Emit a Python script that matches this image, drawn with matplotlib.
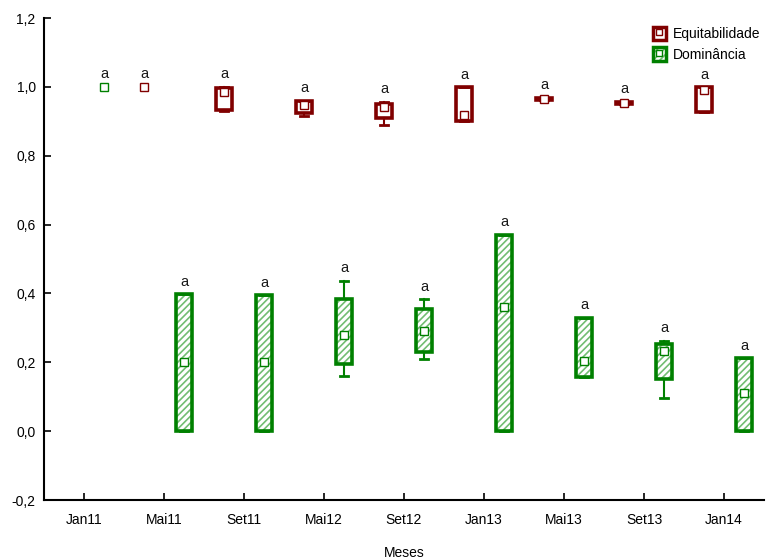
import numpy as np
import matplotlib
matplotlib.use("Agg")
import matplotlib.pyplot as plt
from matplotlib.lines import Line2D
from matplotlib.patches import Patch
from matplotlib.legend_handler import HandlerTuple
from matplotlib.ticker import FuncFormatter

plt.rcParams['font.family'] = ['Liberation Sans', 'DejaVu Sans']
plt.rcParams['hatch.linewidth'] = 1.2

nan = np.nan

# === dados ===
meses = ["Jan11", "Mai11", "Set11", "Mai12", "Set12", "Jan13", "Mai13", "Set13", "Jan14"]

# Equitabilidade (NaN = sem caixa)
eq_med = [nan, 1.000, 0.984, 0.948, 0.941, 0.919, 0.965, 0.953, 0.990]
eq_q1 = [nan, nan, 0.933, 0.924, 0.909, 0.900, 0.962, 0.950, 0.926]
eq_q3 = [nan, nan, 0.998, 0.960, 0.951, 0.999, 0.968, 0.956, 0.999]
eq_min = [nan, nan, 0.930, 0.916, 0.890, 0.900, 0.962, 0.950, 0.926]
eq_max = [nan, nan, 1.000, 0.960, 0.956, 0.999, 0.968, 0.956, 0.999]

# Dominância
dom_med = [1.000, 0.202, 0.202, 0.278, 0.291, 0.360, 0.204, 0.233, 0.110]
dom_q1 = [nan, 0.000, 0.000, 0.194, 0.230, 0.000, 0.156, 0.151, 0.000]
dom_q3 = [nan, 0.397, 0.394, 0.383, 0.354, 0.571, 0.330, 0.252, 0.211]
dom_min = [nan, 0.000, 0.000, 0.159, 0.209, 0.000, 0.156, 0.095, 0.000]
dom_max = [nan, 0.397, 0.394, 0.436, 0.383, 0.571, 0.330, 0.262, 0.211]

letras = "a"

RED = '#800000'
GREEN = '#008000'
LGREEN = '#72bd72'


def desenha(ax, offset, med, q1, q3, lo, hi, cor, hatch=None, cor_hatch=None):
    x = np.arange(len(meses)) + offset
    stats, pos = [], []
    for i in range(len(meses)):
        if not np.isnan(q1[i]):
            stats.append(dict(med=med[i], q1=q1[i], q3=q3[i], whislo=lo[i], whishi=hi[i], fliers=[]))
            pos.append(x[i])
    if hatch:
        ax.bxp(stats, positions=pos, widths=0.2, patch_artist=True, showcaps=False, showfliers=False,
               boxprops=dict(facecolor='white', edgecolor=cor_hatch, hatch=hatch, linewidth=0),
               whiskerprops=dict(linestyle='none'), medianprops=dict(linestyle='none'),
               manage_ticks=False, zorder=2)
    ax.bxp(stats, positions=pos, widths=0.2, patch_artist=True, showfliers=False,
           boxprops=dict(facecolor='none' if hatch else 'white', edgecolor=cor, linewidth=2.6),
           whiskerprops=dict(color=cor, linewidth=1.5), capprops=dict(color=cor, linewidth=2),
           medianprops=dict(linestyle='none'), manage_ticks=False, zorder=3)
    ax.plot(x, med, 's', ms=5.5, mfc='white', mec=cor, mew=1, ls='none', zorder=4)

    # letras acima de cada caixa
    for i in range(len(meses)):
        if np.isnan(med[i]):
            continue
        topo = hi[i] if not np.isnan(hi[i]) else med[i]
        ax.annotate(letras, (x[i], topo), xytext=(0, 4), textcoords='offset points',
                    ha='center', va='bottom', fontsize=10.5, color='#1a1a1a')


fig = plt.figure(figsize=(7.67, 5.6), dpi=100)
ax = fig.add_axes([44 / 767, 60 / 560, 720 / 767, 482 / 560])

desenha(ax, -0.25, eq_med, eq_q1, eq_q3, eq_min, eq_max, RED)
desenha(ax, 0.25, dom_med, dom_q1, dom_q3, dom_min, dom_max, GREEN, hatch='/////', cor_hatch=LGREEN)

ax.set_xlim(-0.5, len(meses) - 0.5)
ax.set_ylim(-0.2, 1.2)
ax.set_xticks(np.arange(len(meses)))
ax.set_xticklabels(meses)
ax.set_yticks(np.arange(-0.2, 1.21, 0.2))
ax.yaxis.set_major_formatter(FuncFormatter(lambda v, p: f"{round(v, 1):.1f}".replace('.', ',').replace('-0,0', '0,0')))
ax.tick_params(direction='in', length=5, width=1.2, labelsize=10, pad=6)
ax.tick_params(axis='x', pad=9)
ax.spines['top'].set_visible(False)
ax.spines['right'].set_visible(False)
ax.spines['left'].set_linewidth(1.5)
ax.spines['bottom'].set_linewidth(1.5)
ax.set_xlabel("Meses", fontsize=10, labelpad=14)

h_eq = (Patch(facecolor='white', edgecolor=RED, lw=2.5),
        Line2D([], [], marker='s', ms=5, mfc='white', mec=RED, ls='none'))
h_dom = (Patch(facecolor='white', edgecolor=LGREEN, hatch='/////', lw=0),
         Patch(facecolor='none', edgecolor=GREEN, lw=2.5),
         Line2D([], [], marker='s', ms=5, mfc='white', mec=GREEN, ls='none'))
ax.legend([h_eq, h_dom], ['Equitabilidade', 'Dominância'],
          handler_map={tuple: HandlerTuple(ndivide=1)},
          loc='upper right', bbox_to_anchor=(1.0, 0.965), bbox_transform=fig.transFigure,
          frameon=False, handlelength=0.9, handleheight=1.1, handletextpad=0.5,
          labelspacing=0.45, fontsize=10, borderaxespad=0.1)

fig.savefig("out.png", dpi=100)
